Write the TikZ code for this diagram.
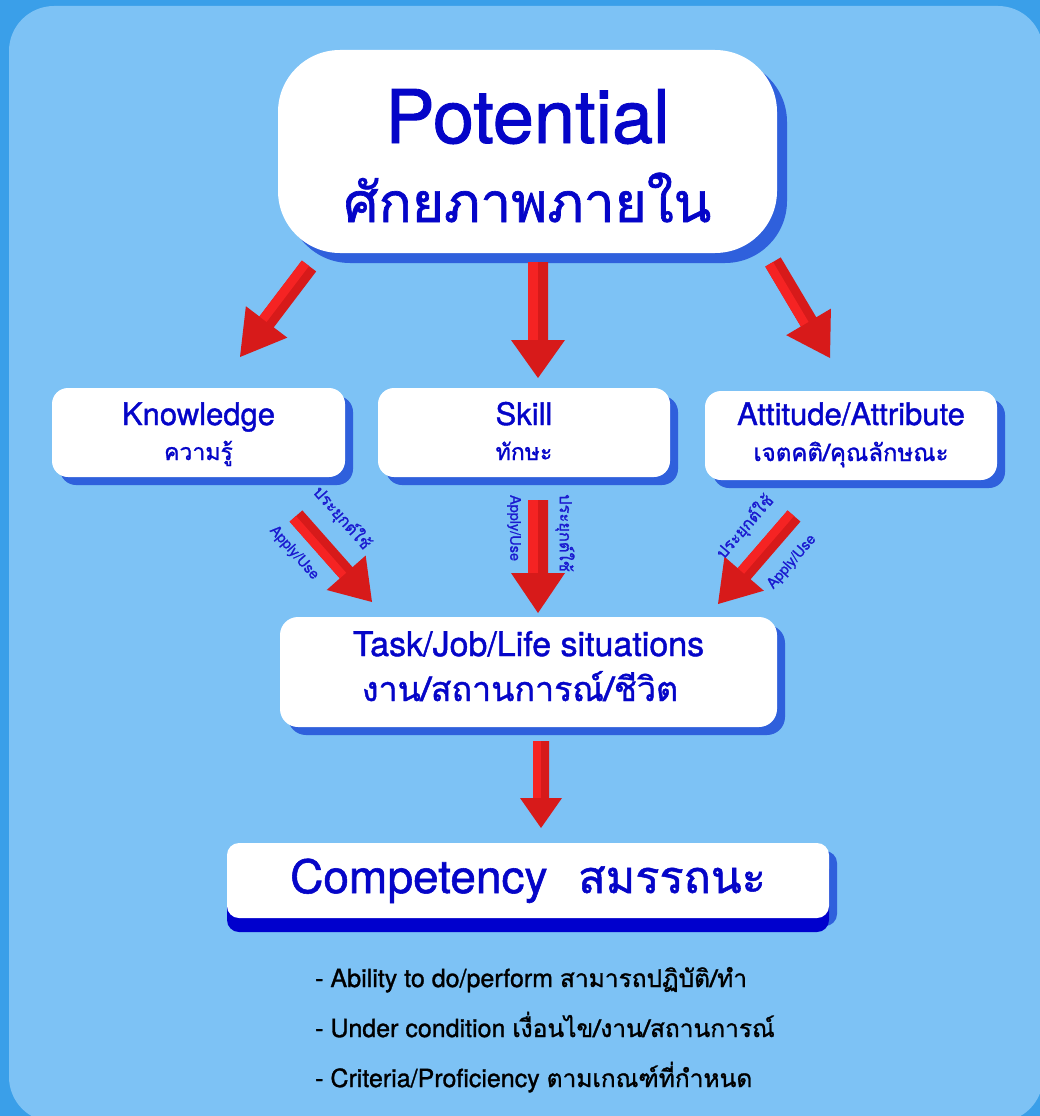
\documentclass[tikz,border=0pt]{standalone}
\usepackage{fontspec}
\setmainfont{TeX Gyre Heros}[RawFeature={embolden=1.2}]
\newfontfamily\thai[Script=Thai,RawFeature={embolden=1.2}]{Loma}
\usetikzlibrary{calc,shadows}
\definecolor{bgouter}{HTML}{3A9FE9}
\definecolor{bginner}{HTML}{7DC2F5}
\definecolor{tblue}{HTML}{0505C8}
\definecolor{sblue}{HTML}{2F60DC}
\definecolor{cshadow}{HTML}{0000CD}
\definecolor{rbright}{HTML}{F52323}
\definecolor{rdark}{HTML}{D71A1A}
\definecolor{lblue}{HTML}{1A1AD0}
\newcommand\redarrow[5]{%
  \coordinate (hb) at ($(#2)!#5!(#1)$);
  \fill[rdark] ($(#1)!#3!90:(#2)$) -- ($(hb)!#3!90:(#2)$) -- ($(hb)!#4!90:(#2)$) -- (#2)
     -- ($(hb)!#4!-90:(#2)$) -- ($(hb)!#3!-90:(#2)$) -- ($(#1)!#3!-90:(#2)$) -- cycle;
  \fill[rbright] (#1) -- ($(#1)!#3!-90:(#2)$) -- ($(hb)!#3!-90:(#2)$) -- (hb) -- cycle;
}
\tikzset{
  box/.style={fill=white, inner sep=0pt, rounded corners=16pt,
    drop shadow={shadow xshift=8pt, shadow yshift=-8pt, fill=sblue, opacity=1}},
  en/.style={anchor=base, text=tblue, inner sep=0pt},
  th/.style={anchor=base, text=tblue, inner sep=0pt},
  lab/.style={text=lblue, inner sep=0pt, font=\fontsize{14.5}{14.5}\selectfont},
  labth/.style={text=lblue, inner sep=0pt, font=\thai\fontsize{16.5}{16.5}\selectfont},
  bullet/.style={anchor=base west, text=black, inner sep=0pt, font=\fontsize{25}{25}\selectfont}
}
\begin{document}
\begin{tikzpicture}[x=1pt,y=-1pt]
\useasboundingbox (0,0) rectangle (1040,1116);
\fill[bgouter] (0,0) rectangle (1040,1116);
\fill[bginner, rounded corners=45pt] (9,6) rectangle (1043,1122);

% boxes
\node[box, minimum width=499pt, minimum height=203pt, rounded corners=62pt,
  drop shadow={shadow xshift=10pt, shadow yshift=-10pt, fill=sblue, opacity=1}] (pot) at (527.5,151.5) {};
\node[en, font=\fontsize{74}{74}\selectfont] (potE) at (527.5,143) {Potential};
\node[th, font=\thai\fontsize{55}{55}\selectfont] (potT) at (527.5,222) {ศักยภาพภายใน};

\node[box, minimum width=293pt, minimum height=89pt] (know) at (198.5,432.5) {};
\node[en, font=\fontsize{31}{31}\selectfont] (knowE) at (198.5,425) {Knowledge};
\node[th, font=\thai\fontsize{23}{23}\selectfont] (knowT) at (198.5,460) {ความรู้};

\node[box, minimum width=292pt, minimum height=89pt] (skill) at (524,432.5) {};
\node[en, font=\fontsize{31}{31}\selectfont] (skillE) at (524,425) {Skill};
\node[th, font=\thai\fontsize{23}{23}\selectfont] (skillT) at (524,460) {ทักษะ};

\node[box, minimum width=292pt, minimum height=89pt] (att) at (851,435.5) {};
\node[en, font=\fontsize{31}{31}\selectfont] (attE) at (851,425) {Attitude/Attribute};
\node[th, font=\thai\fontsize{24}{24}\selectfont] (attT) at (851,461) {เจตคติ/คุณลักษณะ};

\node[box, minimum width=497pt, minimum height=110pt, rounded corners=18pt] (task) at (528.5,672) {};
\node[en, font=\fontsize{34}{34}\selectfont] (taskE) at (528.5,656) {Task/Job/Life situations};
\node[th, font=\thai\fontsize{34}{34}\selectfont] (taskT) at (520,701) {งาน/สถานการณ์/ชีวิต};

\node[box, minimum width=602pt, minimum height=75pt, rounded corners=12pt,
  drop shadow={shadow xshift=0pt, shadow yshift=-14pt, fill=cshadow, opacity=1}] (comp) at (528,880.5) {};
\node[en, anchor=base west, font=\fontsize{46}{46}\selectfont] (compE) at (290,893) {Competency};
\node[th, anchor=base west, font=\thai\fontsize{45}{45}\selectfont] (compT) at (578,893) {สมรรถนะ};

% arrows
\coordinate (a1s) at (309,266); \coordinate (a1e) at (240,357);
\coordinate (a2s) at (538,262); \coordinate (a2e) at (538,378);
\coordinate (a3s) at (773,262); \coordinate (a3e) at (830,358);
\coordinate (b1s) at (296,516); \coordinate (b1e) at (372,602);
\coordinate (b2s) at (538,500); \coordinate (b2e) at (538,613);
\coordinate (b3s) at (794,516); \coordinate (b3e) at (718,604);
\coordinate (cs) at (541,741); \coordinate (ce) at (541,828);
\redarrow{a1s}{a1e}{9pt}{26pt}{44pt}
\redarrow{a2s}{a2e}{10pt}{27pt}{38pt}
\redarrow{a3s}{a3e}{9pt}{26pt}{42pt}
\redarrow{b1s}{b1e}{8.5pt}{26pt}{39pt}
\redarrow{b2s}{b2e}{10pt}{27pt}{40pt}
\redarrow{b3s}{b3e}{8.5pt}{26pt}{40pt}
\redarrow{cs}{ce}{8pt}{21pt}{30pt}

% arrow labels
\node[labth, rotate=-48.5] (l1t) at (342,518) {ประยุกต์ใช้};
\node[lab, rotate=-48.5] (l1e) at (294,553) {Apply/Use};
\node[lab, rotate=-90] (l2e) at (514,528) {Apply/Use};
\node[labth, rotate=-90] (l2t) at (565,533) {ประยุกต์ใช้};
\node[labth, rotate=49.2] (l3t) at (745,527) {ประยุกต์ใช้};
\node[lab, rotate=49.2] (l3e) at (792,562) {Apply/Use};

% bullets
\node[bullet] (bl1) at (315,987) {- Ability to do/perform {\thai\fontsize{24.5}{24.5}\selectfont สามารถปฏิบัติ/ทำ}};
\node[bullet] (bl2) at (315,1037) {- Under condition {\thai\fontsize{24.5}{24.5}\selectfont เงื่อนไข/งาน/สถานการณ์}};
\node[bullet] (bl3) at (315,1087) {- Criteria/Proficiency {\thai\fontsize{24.5}{24.5}\selectfont ตามเกณฑ์ที่กำหนด}};
\end{tikzpicture}
\end{document}
